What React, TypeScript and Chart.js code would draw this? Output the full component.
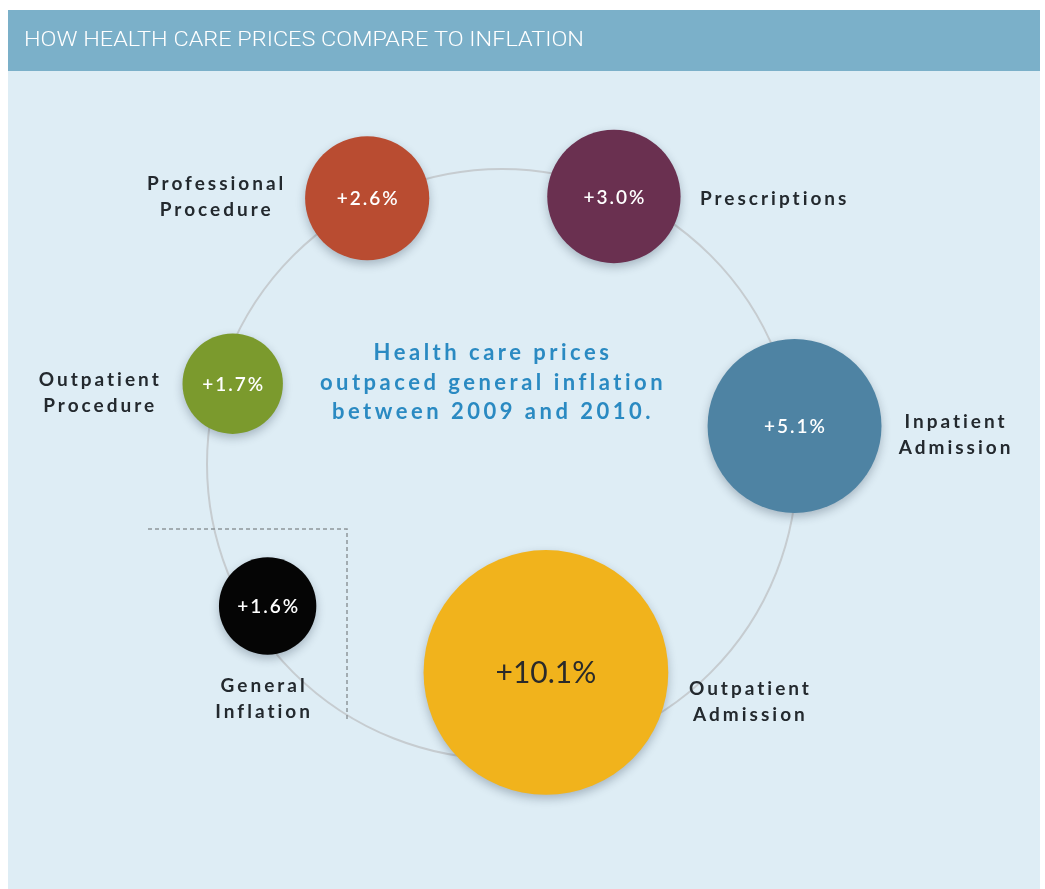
import React, { useEffect, useRef } from "react";
import { Chart, registerables } from "chart.js";

Chart.register(...registerables);

// ---------- data ----------
const categories = [
  "Professional Procedure",
  "Prescriptions",
  "Inpatient Admission",
  "Outpatient Admission",
  "General Inflation",
  "Outpatient Procedure",
];
const labelLines = [
  ["Professional", "Procedure"],
  ["Prescriptions"],
  ["Inpatient", "Admission"],
  ["Outpatient", "Admission"],
  ["General", "Inflation"],
  ["Outpatient", "Procedure"],
];
const priceChange = [2.6, 3.0, 5.1, 10.1, 1.6, 1.7];
const valueLabels = ["+2.6%", "+3.0%", "+5.1%", "+10.1%", "+1.6%", "+1.7%"];
const titleText = "HOW HEALTH CARE PRICES COMPARE TO INFLATION";
const centerText = [
  "Health care prices",
  "outpaced general inflation",
  "between 2009 and 2010.",
];

// ---------- layout & style ----------
const W = 1045;
const H = 889;
const RING = { cx: 502, cy: 464, r: 295 };
const ANGLES = [116.9, 67.3, 7.4, -78.1, 211.2, 163.4];
const DIST = [298, 290, 295, 213, 274, 281];
const RADIUS_K = 38.5;
const COLORS = ["#b94c31", "#6a3050", "#4e83a3", "#f1b31c", "#050505", "#7b9a2d"];
const VALUE_COLORS = ["#ffffff", "#ffffff", "#ffffff", "#2a2a2a", "#ffffff", "#ffffff"];
const LABEL_POS = [
  { dx: -152, dy: -1, align: "center" },
  { dx: 86, dy: 2, align: "left" },
  { dx: 160, dy: 9, align: "center" },
  { dx: 203, dy: 29, align: "center" },
  { dx: -5, dy: 93, align: "center" },
  { dx: -134, dy: 9, align: "center" },
];

export default function App() {
  const ref = useRef<HTMLCanvasElement | null>(null);

  useEffect(() => {
    const canvas = ref.current;
    if (!canvas) return;

    const bubbles = priceChange.map((v, i) => {
      const a = (ANGLES[i] * Math.PI) / 180;
      return {
        x: DIST[i] * Math.cos(a),
        y: DIST[i] * Math.sin(a),
        r: RADIUS_K * Math.sqrt(v),
      };
    });

    const background = {
      id: "background",
      beforeDraw(chart: any) {
        const ctx = chart.ctx;
        ctx.save();
        ctx.fillStyle = "#ffffff";
        ctx.fillRect(0, 0, W, H);
        ctx.fillStyle = "#deedf5";
        ctx.fillRect(8, 71, 1032, H - 71);
        ctx.fillStyle = "#7bb0c9";
        ctx.fillRect(8, 10, 1032, 61);
        ctx.font = "300 20px Roboto";
        ctx.fillStyle = "#ffffff";
        ctx.textBaseline = "middle";
        ctx.textAlign = "left";
        const tw = ctx.measureText(titleText).width;
        const sx = 560 / tw;
        ctx.translate(24, 41);
        ctx.scale(sx, 1);
        ctx.fillText(titleText, 0, 0);
        ctx.restore();
      },
    };

    const ring = {
      id: "ring",
      beforeDatasetsDraw(chart: any) {
        const ctx = chart.ctx;
        const xs = chart.scales.x;
        const ys = chart.scales.y;
        const cx = xs.getPixelForValue(0);
        const cy = ys.getPixelForValue(0);
        ctx.save();
        ctx.strokeStyle = "#c6ccd0";
        ctx.lineWidth = 2;
        ctx.beginPath();
        ctx.arc(cx, cy, RING.r, 0, Math.PI * 2);
        ctx.stroke();
        // dashed frame around general inflation
        ctx.strokeStyle = "#8f969b";
        ctx.lineWidth = 1.5;
        ctx.setLineDash([4, 3]);
        ctx.beginPath();
        ctx.moveTo(148, 529);
        ctx.lineTo(347, 529);
        ctx.lineTo(347, 722);
        ctx.stroke();
        ctx.restore();
      },
    };

    const shadow = {
      id: "shadow",
      beforeDatasetDraw(chart: any) {
        const ctx = chart.ctx;
        ctx.save();
        ctx.shadowColor = "rgba(20,40,60,0.28)";
        ctx.shadowBlur = 10;
        ctx.shadowOffsetY = 4;
      },
      afterDatasetDraw(chart: any) {
        chart.ctx.restore();
      },
    };

    const labels = {
      id: "labels",
      afterDatasetsDraw(chart: any) {
        const ctx = chart.ctx;
        const meta = chart.getDatasetMeta(0);
        ctx.save();
        ctx.textBaseline = "middle";
        meta.data.forEach((el: any, i: number) => {
          const big = priceChange[i] >= 10;
          ctx.fillStyle = VALUE_COLORS[i];
          ctx.textAlign = "center";
          ctx.font = big ? "400 30px Lato" : "600 19px Lato";
          (ctx as any).letterSpacing = big ? "0px" : "2px";
          ctx.fillText(valueLabels[i], el.x + (big ? 0 : 1), el.y + 1);

          const lp = LABEL_POS[i];
          ctx.fillStyle = "#23292e";
          ctx.font = "700 19px Lato";
          (ctx as any).letterSpacing = "3px";
          ctx.textAlign = lp.align as CanvasTextAlign;
          const lines = labelLines[i];
          const lh = 26;
          const y0 = el.y + lp.dy - ((lines.length - 1) * lh) / 2;
          lines.forEach((t, j) => {
            ctx.fillText(t, el.x + lp.dx + (lp.align === "center" ? 1.5 : 0), y0 + j * lh);
          });
        });
        // center message
        ctx.fillStyle = "#2a8ac2";
        ctx.font = "700 22px Lato";
        (ctx as any).letterSpacing = "3.5px";
        ctx.textAlign = "center";
        centerText.forEach((t, j) => {
          ctx.fillText(t, 493, 353 + j * 29.5);
        });
        ctx.restore();
      },
    };

    const chart = new Chart(canvas, {
      type: "bubble",
      data: {
        labels: categories,
        datasets: [
          {
            label: "Price change 2009–2010",
            data: bubbles,
            backgroundColor: COLORS,
            borderWidth: 0,
            hoverBorderWidth: 0,
            clip: false as any,
          },
        ],
      },
      options: {
        responsive: false,
        animation: false,
        events: [],
        layout: { padding: 0 },
        plugins: {
          legend: { display: false },
          tooltip: { enabled: false },
        },
        scales: {
          x: { type: "linear", min: -RING.cx, max: W - RING.cx, display: false },
          y: { type: "linear", min: -(H - RING.cy), max: RING.cy, display: false },
        },
      },
      plugins: [background, ring, shadow, labels],
    });

    // make one data unit equal one pixel inside the (padded) chart area,
    // with the origin at the ring centre
    const ca = chart.chartArea;
    const xs: any = chart.options.scales!.x;
    const ys: any = chart.options.scales!.y;
    xs.min = ca.left - RING.cx;
    xs.max = xs.min + (ca.right - ca.left);
    ys.max = RING.cy - ca.top;
    ys.min = ys.max - (ca.bottom - ca.top);
    chart.update();

    return () => chart.destroy();
  }, []);

  return (
    <div style={{ position: "fixed", left: 0, top: 0, width: W, height: H }}>
      <canvas ref={ref} width={W} height={H} style={{ display: "block", width: W, height: H }} />
    </div>
  );
}
